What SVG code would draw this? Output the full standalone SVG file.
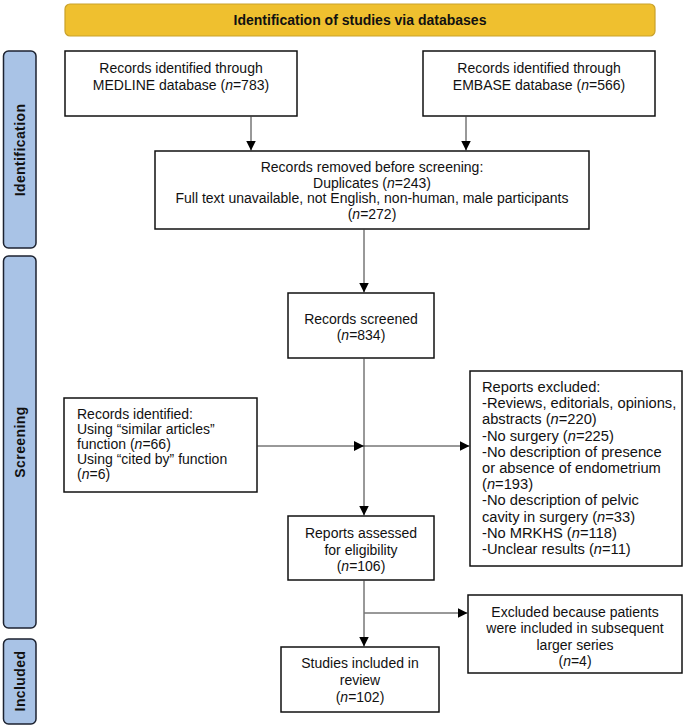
<svg xmlns="http://www.w3.org/2000/svg" width="684" height="728" viewBox="0 0 684 728">
<defs>
<style>
.box{fill:#fff;stroke:#111;stroke-width:1.5}
.lab{fill:#a9c3e6;stroke:#1c2230;stroke-width:1.5}
.t{font-family:"Liberation Sans",Arial,sans-serif;font-size:14px;fill:#111}
.big{font-size:14.7px}
.c{text-anchor:middle}
.lt{font-family:"Liberation Sans",Arial,sans-serif;font-size:14px;font-weight:bold;fill:#111;text-anchor:middle;letter-spacing:0.4px}
.ln{stroke:#333;stroke-width:1;fill:none}
</style>
<marker id="ah" markerUnits="userSpaceOnUse" markerWidth="10" markerHeight="10" refX="10" refY="5" orient="auto">
<path d="M0,0 L10,5 L0,10 Z" fill="#000"/>
</marker>
</defs>
<g id="header">
<rect x="65" y="4" width="590" height="32" rx="5" fill="#efc02f" stroke="#c9a12a" stroke-width="1.2"/>
<text x="360" y="25" class="t c" font-weight="bold">Identification of studies via databases</text>
</g>
<g id="label-identification">
<rect x="3.5" y="51" width="32.5" height="197" rx="5" class="lab"/>
<text transform="translate(25,150) rotate(-90)" class="lt">Identification</text>
</g>
<g id="label-screening">
<rect x="3.5" y="256" width="32.5" height="372" rx="5" class="lab"/>
<text transform="translate(25,442) rotate(-90)" class="lt">Screening</text>
</g>
<g id="label-included">
<rect x="3.5" y="639" width="32.5" height="85" rx="5" class="lab"/>
<text transform="translate(25,681) rotate(-90)" class="lt">Included</text>
</g>
<g id="medline">
<rect x="65" y="51" width="232" height="65" class="box"/>
<text class="t c" x="181" y="73">Records identified through</text>
<text class="t c" x="181" y="90">MEDLINE database (<tspan font-style="italic">n</tspan>=783)</text>
</g>
<g id="embase">
<rect x="423" y="51" width="232" height="65" class="box"/>
<text class="t c" x="539" y="73">Records identified through</text>
<text class="t c" x="539" y="90">EMBASE database (<tspan font-style="italic">n</tspan>=566)</text>
</g>
<g id="removed">
<rect x="155" y="151" width="434" height="78" class="box"/>
<text class="t c" x="372" y="172">Records removed before screening:</text>
<text class="t c" x="372" y="187.5">Duplicates (<tspan font-style="italic">n</tspan>=243)</text>
<text class="t c" x="372" y="203">Full text unavailable, not English, non-human, male participants</text>
<text class="t c" x="372" y="218.5">(<tspan font-style="italic">n</tspan>=272)</text>
</g>
<g id="screened">
<rect x="288" y="293" width="146" height="65" class="box"/>
<text class="t c" x="361" y="324">Records screened</text>
<text class="t c" x="361" y="340">(<tspan font-style="italic">n</tspan>=834)</text>
</g>
<g id="identified-other">
<rect x="64" y="398" width="193" height="94" class="box"/>
<text class="t" x="77" y="419">Records identified:</text>
<text class="t" x="77" y="434">Using “similar articles”</text>
<text class="t" x="77" y="449">function (<tspan font-style="italic">n</tspan>=66)</text>
<text class="t" x="77" y="464">Using “cited by” function</text>
<text class="t" x="77" y="479">(<tspan font-style="italic">n</tspan>=6)</text>
</g>
<g id="reports-excluded">
<rect x="470" y="371" width="212" height="195" class="box"/>
<text class="t big" x="482" y="392">Reports excluded:</text>
<text class="t big" x="482" y="408.2">-Reviews, editorials, opinions,</text>
<text class="t big" x="482" y="424.4">abstracts (<tspan font-style="italic">n</tspan>=220)</text>
<text class="t big" x="482" y="440.6">-No surgery (<tspan font-style="italic">n</tspan>=225)</text>
<text class="t big" x="482" y="456.8">-No description of presence</text>
<text class="t big" x="482" y="473">or absence of endometrium</text>
<text class="t big" x="482" y="489.2">(<tspan font-style="italic">n</tspan>=193)</text>
<text class="t big" x="482" y="505.4">-No description of pelvic</text>
<text class="t big" x="482" y="521.6">cavity in surgery (<tspan font-style="italic">n</tspan>=33)</text>
<text class="t big" x="482" y="537.8">-No MRKHS (<tspan font-style="italic">n</tspan>=118)</text>
<text class="t big" x="482" y="554">-Unclear results (<tspan font-style="italic">n</tspan>=11)</text>
</g>
<g id="assessed">
<rect x="288" y="516" width="146" height="64" class="box"/>
<text class="t c" x="361" y="538">Reports assessed</text>
<text class="t c" x="361" y="554.5">for eligibility</text>
<text class="t c" x="361" y="571">(<tspan font-style="italic">n</tspan>=106)</text>
</g>
<g id="excluded-series">
<rect x="468" y="595" width="214" height="78" class="box"/>
<text class="t c" x="575" y="617">Excluded because patients</text>
<text class="t c" x="575" y="633">were included in subsequent</text>
<text class="t c" x="575" y="650">larger series</text>
<text class="t c" x="575" y="666">(<tspan font-style="italic">n</tspan>=4)</text>
</g>
<g id="included">
<rect x="281" y="647" width="158" height="65" class="box"/>
<text class="t c" x="360" y="668">Studies included in</text>
<text class="t c" x="360" y="685">review</text>
<text class="t c" x="360" y="702">(<tspan font-style="italic">n</tspan>=102)</text>
</g>
<g id="connectors">
<line class="ln" x1="251" y1="116.5" x2="251" y2="150.5" marker-end="url(#ah)"/>
<line class="ln" x1="466" y1="116.5" x2="466" y2="150.5" marker-end="url(#ah)"/>
<line class="ln" x1="364" y1="229.5" x2="364" y2="292.5" marker-end="url(#ah)"/>
<line class="ln" x1="364" y1="358.5" x2="364" y2="515.5" marker-end="url(#ah)"/>
<line class="ln" x1="257" y1="446" x2="364" y2="446" marker-end="url(#ah)"/>
<line class="ln" x1="364" y1="446" x2="469.5" y2="446" stroke="#777" marker-end="url(#ah)"/>
<line class="ln" x1="364" y1="580.5" x2="364" y2="646.5" marker-end="url(#ah)"/>
<line class="ln" x1="364.5" y1="613" x2="467.5" y2="613" marker-end="url(#ah)"/>
</g>
</svg>
